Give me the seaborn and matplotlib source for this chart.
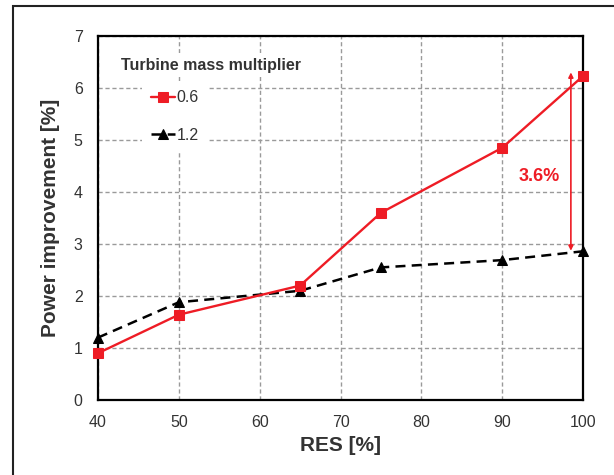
import matplotlib
matplotlib.use("Agg")
import matplotlib.pyplot as plt
import seaborn as sns
import pandas as pd
from matplotlib.patches import Rectangle

res = [40, 50, 65, 75, 90, 100]
power_06 = [0.9, 1.64, 2.2, 3.6, 4.85, 6.23]
power_12 = [1.2, 1.88, 2.1, 2.55, 2.69, 2.86]
series_labels = ["0.6", "1.2"]
legend_title = "Turbine mass multiplier"
diff_label = "3.6%"

sns.set_style("white")
plt.rcParams['font.family'] = ['Liberation Sans', 'DejaVu Sans']

df = pd.DataFrame({
    "RES": res * 2,
    "Power": power_06 + power_12,
    "Multiplier": [series_labels[0]] * len(res) + [series_labels[1]] * len(res),
})

fig = plt.figure(figsize=(6.14, 4.75), dpi=100)
ax = fig.add_axes([98/614, 75/475, 485/614, 364/475])

d1 = df[df.Multiplier == series_labels[0]]
d2 = df[df.Multiplier == series_labels[1]]
sns.lineplot(data=d1, x="RES", y="Power", ax=ax, color="#ee1c25", lw=1.7,
             marker="s", markersize=7, markeredgecolor="#ee1c25", label=series_labels[0],
             zorder=4, clip_on=False)
sns.lineplot(data=d2, x="RES", y="Power", ax=ax, color="black", lw=1.8,
             linestyle=(0, (4, 2.5)), marker="^", markersize=6.5, markeredgecolor="black",
             label=series_labels[1], zorder=3, clip_on=False)

ax.set_xlim(40, 100)
ax.set_ylim(0, 7)
ax.set_xticks(range(40, 101, 10))
ax.set_yticks(range(0, 8))
ax.set_xticks(range(40, 101, 2), minor=True)
ax.set_yticks([i * 0.2 for i in range(36)], minor=True)
ax.grid(True, which="major", color="#9a9a9a", linestyle=(0, (3, 2)), lw=1.0)
for s in ax.spines.values():
    s.set_linewidth(1.6)
    s.set_color("black")
ax.tick_params(which="major", direction="out", length=5, width=1.5, labelsize=11.5,
               labelcolor="#333333", color="black", pad=6)
ax.tick_params(which="minor", direction="in", length=3.5, width=1.2, color="black")
ax.set_xlabel("RES [%]", fontsize=15, fontweight="bold", color="#333333", labelpad=4)
ax.set_ylabel("Power improvement [%]", fontsize=15, fontweight="bold", color="#333333", labelpad=10)

# legend
leg = ax.legend(loc="upper left", bbox_to_anchor=(0.09, 0.877), frameon=True,
                fontsize=11.5, handlelength=1.5, handletextpad=0.1, labelspacing=1.4,
                borderpad=0.6, borderaxespad=0)
leg.get_frame().set_facecolor("white")
leg.get_frame().set_edgecolor("none")
leg.get_frame().set_alpha(1)
for t in leg.get_texts():
    t.set_color("#333333")
ax.text(0.233, 0.92, legend_title, transform=ax.transAxes, ha="center", va="center",
        fontsize=11.5, fontweight="bold", color="#333333", zorder=6,
        bbox=dict(facecolor="white", edgecolor="none", pad=3))

# difference annotation
ax.annotate("", xy=(98.5, 6.3), xytext=(98.5, 2.87),
            arrowprops=dict(arrowstyle="<|-|>", color="#ee1c25", lw=1.2,
                            mutation_scale=7, shrinkA=0, shrinkB=0), zorder=5)
ax.text(94.6, 4.3, diff_label, ha="center", va="center", fontsize=13,
        fontweight="bold", color="#ee1c25")

# outer border
fig.patches.append(Rectangle((13/614, -0.05), 1.2, (475-6)/475 + 0.05,
                             transform=fig.transFigure, fill=False, edgecolor="#222222",
                             lw=1.5, clip_on=False))

fig.savefig("out.png", dpi=100)
